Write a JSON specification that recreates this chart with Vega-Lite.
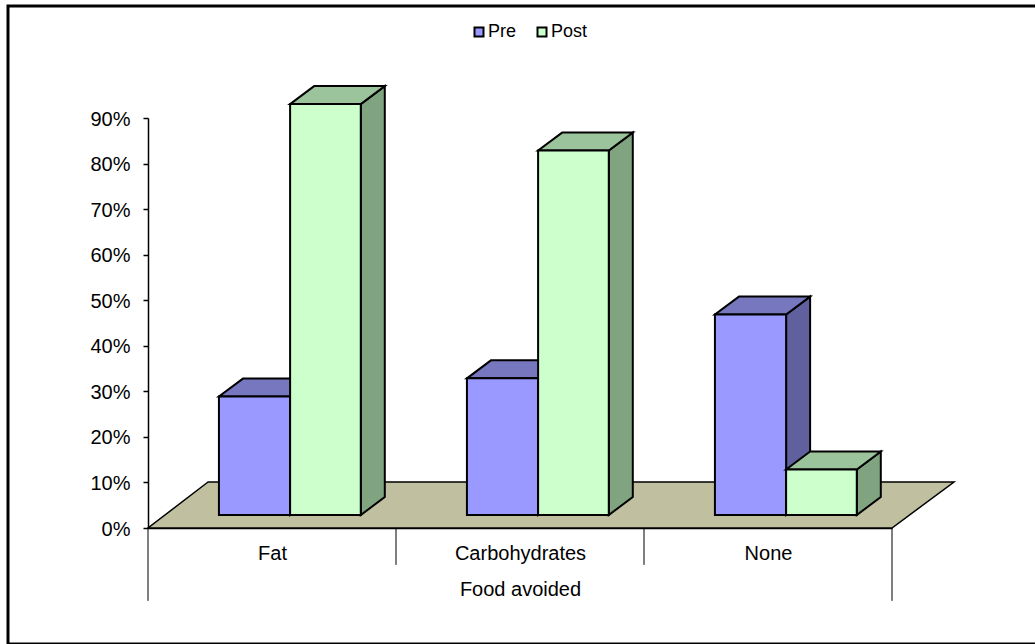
{
  "$schema": "https://vega.github.io/schema/vega-lite/v6.json",
  "width": 1029,
  "height": 638,
  "padding": {"left": 8, "top": 6, "right": 0, "bottom": 0},
  "autosize": "none",
  "background": "white",
  "view": {"stroke": "black", "strokeWidth": 3, "fill": "white"},
  "config": {
    "font": "Liberation Sans",
    "axis": {"labelFont": "Liberation Sans", "titleFont": "Liberation Sans", "labelColor": "black", "titleColor": "black", "domainColor": "black", "tickColor": "black", "grid": false},
    "legend": {"labelFont": "Liberation Sans"}
  },
  "data": {
    "values": [
      {"food": "Fat", "idx": 0, "series": "Pre", "value": 0.26},
      {"food": "Fat", "idx": 0, "series": "Post", "value": 0.902},
      {"food": "Carbohydrates", "idx": 1, "series": "Pre", "value": 0.30},
      {"food": "Carbohydrates", "idx": 1, "series": "Post", "value": 0.80},
      {"food": "None", "idx": 2, "series": "Pre", "value": 0.44},
      {"food": "None", "idx": 2, "series": "Post", "value": 0.10}
    ]
  },
  "transform": [
    {"calculate": "datum.idx + (datum.series === 'Pre' ? 0.286 : 0.573)", "as": "x0"},
    {"calculate": "datum.idx + (datum.series === 'Pre' ? 0.573 : 0.858)", "as": "x1"},
    {"calculate": "0.0285", "as": "base"},
    {"calculate": "datum.value + datum.base", "as": "top"}
  ],
  "layer": [
    {
      "data": {"values": [
        {"yf": 0, "xa": 0, "xb": 3},
        {"yf": 0.101, "xa": 0.242, "xb": 3.25}
      ]},
      "mark": {"type": "area", "orient": "horizontal", "fill": "#C0C0A0", "stroke": "black", "strokeWidth": 1.5},
      "encoding": {
        "y": {"field": "yf", "type": "quantitative",
          "scale": {"domain": [0, 0.9], "range": [522, 112], "nice": false, "zero": false},
          "axis": {"title": null, "orient": "left", "offset": -140, "values": [0, 0.1, 0.2, 0.3, 0.4, 0.5, 0.6, 0.7, 0.8, 0.9], "format": ".0%", "tickSize": 5, "labelPadding": 13, "labelOffset": 1, "labelFontSize": 20, "domainWidth": 1.5, "tickWidth": 1.5}
        },
        "x": {"field": "xa", "type": "quantitative", "stack": null,
          "scale": {"domain": [0, 3], "range": [140, 884], "nice": false, "zero": false},
          "axis": {"title": "Food avoided", "orient": "bottom", "offset": -116, "values": [0.5, 1.5, 2.5],
            "labelExpr": "datum.value < 1 ? 'Fat' : datum.value < 2 ? 'Carbohydrates' : 'None'",
            "ticks": false, "labelPadding": 15, "labelFontSize": 20, "labelFontWeight": "normal", "titleFontSize": 20, "titleFontWeight": "normal", "titlePadding": 16, "domainWidth": 1.5}
        },
        "x2": {"field": "xb"}
      }
    },
    {
      "data": {"values": [
        {"edge": 0, "zero": 0, "drop": -0.16},
        {"edge": 1, "zero": 0, "drop": -0.081},
        {"edge": 2, "zero": 0, "drop": -0.081},
        {"edge": 3, "zero": 0, "drop": -0.16}
      ]},
      "mark": {"type": "rule", "color": "black", "strokeWidth": 1},
      "encoding": {
        "x": {"field": "edge", "type": "quantitative"},
        "y": {"field": "zero", "type": "quantitative"},
        "y2": {"field": "drop"}
      }
    },
    {
      "transform": [
        {"filter": "datum.series === 'Pre'"},
        {"calculate": "[datum.x1, datum.x1 + 0.0968]", "as": "sx"},
        {"calculate": "[datum.top, datum.top + 0.0395]", "as": "sa"},
        {"calculate": "[datum.base, datum.base + 0.0395]", "as": "sb"},
        {"flatten": ["sx", "sa", "sb"]}
      ],
      "mark": {"type": "area", "orient": "vertical", "fill": "#60609F", "stroke": "black", "strokeWidth": 2},
      "encoding": {
        "x": {"field": "sx", "type": "quantitative"},
        "y": {"field": "sa", "type": "quantitative", "stack": null},
        "y2": {"field": "sb"},
        "detail": {"field": "food", "type": "nominal"}
      }
    },
    {
      "transform": [
        {"filter": "datum.series === 'Pre'"},
        {"calculate": "[datum.top, datum.top + 0.0395]", "as": "ty"},
        {"calculate": "[datum.x0, datum.x0 + 0.0968]", "as": "ta"},
        {"calculate": "[datum.x1, datum.x1 + 0.0968]", "as": "tb"},
        {"flatten": ["ty", "ta", "tb"]}
      ],
      "mark": {"type": "area", "orient": "horizontal", "fill": "#7777C0", "stroke": "black", "strokeWidth": 2},
      "encoding": {
        "y": {"field": "ty", "type": "quantitative"},
        "x": {"field": "ta", "type": "quantitative", "stack": null},
        "x2": {"field": "tb"},
        "detail": {"field": "food", "type": "nominal"}
      }
    },
    {
      "transform": [{"filter": "datum.series === 'Pre'"}],
      "mark": {"type": "rect", "stroke": "black", "strokeWidth": 2},
      "encoding": {
        "x": {"field": "x0", "type": "quantitative"},
        "x2": {"field": "x1"},
        "y": {"field": "base", "type": "quantitative"},
        "y2": {"field": "top"},
        "color": {"field": "series", "type": "nominal",
          "scale": {"domain": ["Pre", "Post"], "range": ["#9999FF", "#CCFFCC"]},
          "legend": {"title": null, "orient": "none", "direction": "horizontal", "legendX": 462, "legendY": 17, "symbolType": "square", "symbolSize": 81, "symbolStrokeColor": "black", "symbolStrokeWidth": 2, "labelFontSize": 18, "labelOffset": 0, "labelColor": "black", "columnPadding": 16, "symbolOpacity": 1}
        }
      }
    },
    {
      "transform": [
        {"filter": "datum.series === 'Post'"},
        {"calculate": "[datum.x1, datum.x1 + 0.0968]", "as": "sx"},
        {"calculate": "[datum.top, datum.top + 0.0395]", "as": "sa"},
        {"calculate": "[datum.base, datum.base + 0.0395]", "as": "sb"},
        {"flatten": ["sx", "sa", "sb"]}
      ],
      "mark": {"type": "area", "orient": "vertical", "fill": "#80A380", "stroke": "black", "strokeWidth": 2},
      "encoding": {
        "x": {"field": "sx", "type": "quantitative"},
        "y": {"field": "sa", "type": "quantitative", "stack": null},
        "y2": {"field": "sb"},
        "detail": {"field": "food", "type": "nominal"}
      }
    },
    {
      "transform": [
        {"filter": "datum.series === 'Post'"},
        {"calculate": "[datum.top, datum.top + 0.0395]", "as": "ty"},
        {"calculate": "[datum.x0, datum.x0 + 0.0968]", "as": "ta"},
        {"calculate": "[datum.x1, datum.x1 + 0.0968]", "as": "tb"},
        {"flatten": ["ty", "ta", "tb"]}
      ],
      "mark": {"type": "area", "orient": "horizontal", "fill": "#9CC49C", "stroke": "black", "strokeWidth": 2},
      "encoding": {
        "y": {"field": "ty", "type": "quantitative"},
        "x": {"field": "ta", "type": "quantitative", "stack": null},
        "x2": {"field": "tb"},
        "detail": {"field": "food", "type": "nominal"}
      }
    },
    {
      "transform": [{"filter": "datum.series === 'Post'"}],
      "mark": {"type": "rect", "stroke": "black", "strokeWidth": 2},
      "encoding": {
        "x": {"field": "x0", "type": "quantitative"},
        "x2": {"field": "x1"},
        "y": {"field": "base", "type": "quantitative"},
        "y2": {"field": "top"},
        "color": {"field": "series", "type": "nominal"}
      }
    }
  ]
}
